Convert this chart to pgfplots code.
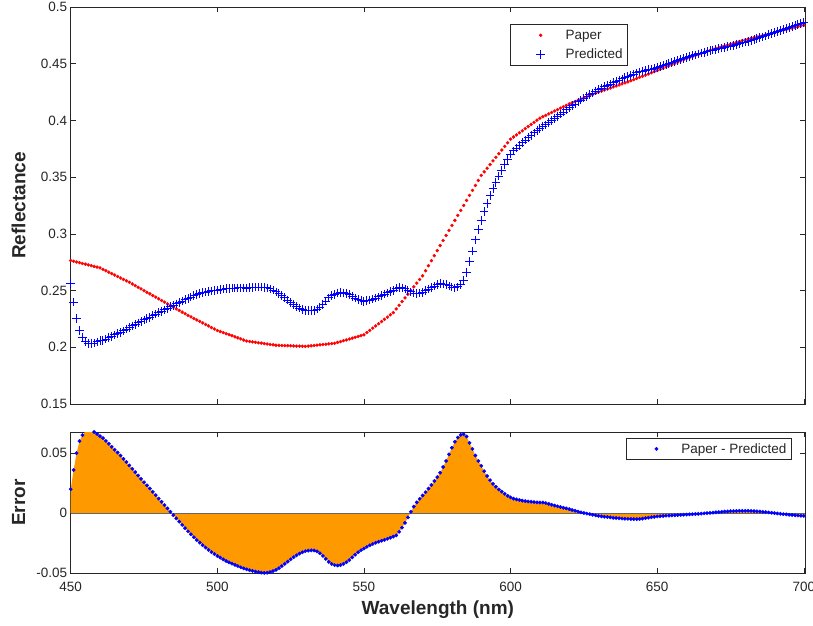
\documentclass[border=0pt]{standalone}
\usepackage{fontspec}
\setmainfont{Liberation Sans}
\usepackage{pgfplots}
\usepackage{pgfplotstable}
\pgfplotsset{compat=1.18}
\definecolor{axgray}{RGB}{38,38,38}
\definecolor{morange}{RGB}{255,153,0}

\pgfplotstableread{
lam paper pred err
450 0.2765 0.2565 0.0200
451 0.2759 0.2399 0.0360
452 0.2752 0.2252 0.0500
453 0.2746 0.2146 0.0600
454 0.2739 0.2089 0.0650
455 0.2733 0.2053 0.0680
456 0.2726 0.2036 0.0690
457 0.2720 0.2032 0.0688
458 0.2713 0.2037 0.0676
459 0.2707 0.2047 0.0660
460 0.2700 0.2058 0.0642
461 0.2687 0.2062 0.0625
462 0.2675 0.2073 0.0602
463 0.2662 0.2084 0.0578
464 0.2649 0.2096 0.0553
465 0.2637 0.2109 0.0528
466 0.2624 0.2119 0.0505
467 0.2611 0.2131 0.0480
468 0.2598 0.2145 0.0453
469 0.2586 0.2160 0.0426
470 0.2573 0.2175 0.0398
471 0.2558 0.2188 0.0370
472 0.2544 0.2202 0.0342
473 0.2529 0.2215 0.0314
474 0.2515 0.2229 0.0286
475 0.2500 0.2242 0.0258
476 0.2485 0.2253 0.0232
477 0.2471 0.2265 0.0206
478 0.2456 0.2278 0.0178
479 0.2442 0.2292 0.0150
480 0.2427 0.2305 0.0122
481 0.2412 0.2317 0.0095
482 0.2398 0.2330 0.0068
483 0.2383 0.2343 0.0040
484 0.2369 0.2357 0.0012
485 0.2354 0.2370 -0.0016
486 0.2339 0.2382 -0.0043
487 0.2325 0.2395 -0.0070
488 0.2310 0.2407 -0.0097
489 0.2296 0.2420 -0.0124
490 0.2281 0.2431 -0.0150
491 0.2268 0.2443 -0.0175
492 0.2254 0.2454 -0.0200
493 0.2241 0.2465 -0.0224
494 0.2228 0.2473 -0.0245
495 0.2215 0.2481 -0.0266
496 0.2201 0.2487 -0.0286
497 0.2188 0.2493 -0.0305
498 0.2174 0.2497 -0.0323
499 0.2161 0.2501 -0.0340
500 0.2148 0.2504 -0.0356
501 0.2139 0.2509 -0.0370
502 0.2129 0.2513 -0.0384
503 0.2120 0.2517 -0.0397
504 0.2111 0.2520 -0.0409
505 0.2102 0.2522 -0.0420
506 0.2092 0.2522 -0.0430
507 0.2083 0.2523 -0.0440
508 0.2074 0.2524 -0.0450
509 0.2064 0.2523 -0.0459
510 0.2055 0.2522 -0.0467
511 0.2051 0.2525 -0.0474
512 0.2048 0.2528 -0.0480
513 0.2044 0.2530 -0.0486
514 0.2040 0.2530 -0.0490
515 0.2037 0.2531 -0.0494
516 0.2033 0.2529 -0.0496
517 0.2029 0.2524 -0.0495
518 0.2025 0.2515 -0.0490
519 0.2022 0.2504 -0.0482
520 0.2018 0.2489 -0.0471
521 0.2017 0.2474 -0.0457
522 0.2016 0.2456 -0.0440
523 0.2015 0.2437 -0.0422
524 0.2014 0.2417 -0.0403
525 0.2013 0.2397 -0.0384
526 0.2012 0.2378 -0.0366
527 0.2011 0.2361 -0.0350
528 0.2010 0.2346 -0.0336
529 0.2009 0.2334 -0.0325
530 0.2008 0.2324 -0.0316
531 0.2011 0.2322 -0.0311
532 0.2013 0.2322 -0.0309
533 0.2016 0.2326 -0.0310
534 0.2019 0.2337 -0.0318
535 0.2022 0.2355 -0.0333
536 0.2024 0.2379 -0.0355
537 0.2027 0.2407 -0.0380
538 0.2030 0.2435 -0.0405
539 0.2032 0.2454 -0.0422
540 0.2035 0.2467 -0.0432
541 0.2043 0.2478 -0.0435
542 0.2050 0.2482 -0.0432
543 0.2058 0.2480 -0.0422
544 0.2065 0.2473 -0.0408
545 0.2073 0.2463 -0.0390
546 0.2080 0.2448 -0.0368
547 0.2088 0.2433 -0.0345
548 0.2095 0.2420 -0.0325
549 0.2103 0.2411 -0.0308
550 0.2110 0.2404 -0.0294
551 0.2130 0.2410 -0.0280
552 0.2149 0.2416 -0.0267
553 0.2169 0.2425 -0.0256
554 0.2188 0.2434 -0.0246
555 0.2208 0.2445 -0.0237
556 0.2227 0.2456 -0.0229
557 0.2247 0.2469 -0.0222
558 0.2266 0.2479 -0.0213
559 0.2286 0.2490 -0.0204
560 0.2305 0.2500 -0.0195
561 0.2338 0.2522 -0.0184
562 0.2370 0.2525 -0.0155
563 0.2403 0.2523 -0.0120
564 0.2435 0.2515 -0.0080
565 0.2468 0.2503 -0.0035
566 0.2500 0.2488 0.0012
567 0.2533 0.2478 0.0055
568 0.2565 0.2475 0.0090
569 0.2598 0.2478 0.0120
570 0.2630 0.2482 0.0148
571 0.2675 0.2500 0.0175
572 0.2719 0.2514 0.0205
573 0.2764 0.2529 0.0235
574 0.2808 0.2540 0.0268
575 0.2853 0.2553 0.0300
576 0.2897 0.2560 0.0337
577 0.2942 0.2557 0.0385
578 0.2986 0.2551 0.0435
579 0.3031 0.2541 0.0490
580 0.3075 0.2530 0.0545
581 0.3119 0.2524 0.0595
582 0.3163 0.2533 0.0630
583 0.3207 0.2555 0.0652
584 0.3251 0.2593 0.0658
585 0.3295 0.2657 0.0638
586 0.3339 0.2754 0.0585
587 0.3383 0.2848 0.0535
588 0.3427 0.2947 0.0480
589 0.3471 0.3036 0.0435
590 0.3515 0.3120 0.0395
591 0.3547 0.3197 0.0350
592 0.3579 0.3269 0.0310
593 0.3611 0.3336 0.0275
594 0.3643 0.3398 0.0245
595 0.3675 0.3455 0.0220
596 0.3707 0.3509 0.0198
597 0.3739 0.3559 0.0180
598 0.3771 0.3609 0.0162
599 0.3803 0.3658 0.0145
600 0.3835 0.3703 0.0132
601 0.3854 0.3732 0.0122
602 0.3872 0.3757 0.0115
603 0.3891 0.3781 0.0110
604 0.3909 0.3804 0.0105
605 0.3928 0.3827 0.0101
606 0.3946 0.3848 0.0098
607 0.3965 0.3869 0.0096
608 0.3983 0.3890 0.0093
609 0.4002 0.3912 0.0090
610 0.4020 0.3931 0.0089
611 0.4033 0.3944 0.0089
612 0.4045 0.3960 0.0085
613 0.4058 0.3980 0.0078
614 0.4070 0.4000 0.0070
615 0.4083 0.4019 0.0064
616 0.4095 0.4037 0.0058
617 0.4108 0.4056 0.0052
618 0.4120 0.4074 0.0046
619 0.4133 0.4093 0.0040
620 0.4145 0.4111 0.0034
621 0.4156 0.4129 0.0027
622 0.4166 0.4145 0.0021
623 0.4177 0.4163 0.0014
624 0.4187 0.4179 0.0008
625 0.4198 0.4196 0.0002
626 0.4208 0.4211 -0.0003
627 0.4219 0.4227 -0.0008
628 0.4229 0.4242 -0.0013
629 0.4240 0.4258 -0.0018
630 0.4250 0.4272 -0.0022
631 0.4259 0.4285 -0.0026
632 0.4268 0.4297 -0.0029
633 0.4277 0.4309 -0.0032
634 0.4286 0.4321 -0.0035
635 0.4295 0.4333 -0.0038
636 0.4304 0.4344 -0.0040
637 0.4313 0.4355 -0.0042
638 0.4322 0.4366 -0.0044
639 0.4331 0.4377 -0.0046
640 0.4340 0.4387 -0.0047
641 0.4350 0.4398 -0.0048
642 0.4360 0.4409 -0.0049
643 0.4370 0.4419 -0.0049
644 0.4380 0.4428 -0.0048
645 0.4390 0.4435 -0.0045
646 0.4400 0.4441 -0.0041
647 0.4410 0.4447 -0.0037
648 0.4420 0.4453 -0.0033
649 0.4430 0.4460 -0.0030
650 0.4440 0.4467 -0.0027
651 0.4451 0.4476 -0.0025
652 0.4461 0.4484 -0.0023
653 0.4472 0.4493 -0.0021
654 0.4482 0.4502 -0.0020
655 0.4493 0.4511 -0.0018
656 0.4503 0.4520 -0.0017
657 0.4514 0.4529 -0.0015
658 0.4524 0.4538 -0.0014
659 0.4535 0.4547 -0.0012
660 0.4545 0.4556 -0.0011
661 0.4554 0.4563 -0.0009
662 0.4563 0.4571 -0.0008
663 0.4572 0.4578 -0.0006
664 0.4581 0.4586 -0.0005
665 0.4590 0.4593 -0.0003
666 0.4599 0.4600 -0.0001
667 0.4608 0.4607 0.0001
668 0.4617 0.4614 0.0003
669 0.4626 0.4621 0.0005
670 0.4635 0.4627 0.0008
671 0.4643 0.4633 0.0010
672 0.4650 0.4638 0.0012
673 0.4658 0.4644 0.0014
674 0.4665 0.4650 0.0015
675 0.4673 0.4656 0.0017
676 0.4680 0.4662 0.0018
677 0.4688 0.4669 0.0019
678 0.4695 0.4675 0.0020
679 0.4703 0.4683 0.0020
680 0.4710 0.4690 0.0020
681 0.4717 0.4697 0.0020
682 0.4723 0.4704 0.0019
683 0.4730 0.4712 0.0018
684 0.4736 0.4720 0.0016
685 0.4743 0.4729 0.0014
686 0.4749 0.4737 0.0012
687 0.4756 0.4746 0.0010
688 0.4762 0.4755 0.0007
689 0.4769 0.4765 0.0004
690 0.4775 0.4774 0.0001
691 0.4782 0.4784 -0.0002
692 0.4788 0.4793 -0.0005
693 0.4795 0.4803 -0.0008
694 0.4801 0.4811 -0.0010
695 0.4808 0.4821 -0.0013
696 0.4814 0.4829 -0.0015
697 0.4821 0.4838 -0.0017
698 0.4827 0.4846 -0.0019
699 0.4834 0.4855 -0.0021
700 0.4840 0.4862 -0.0022
}\data

\pgfplotsset{
  mylegimg/.style={legend image code/.code={%
    \path[draw=none,fill=none] (0pt,-4pt) rectangle (50pt,4pt);
    \draw[mark repeat=2,mark phase=2,##1] plot coordinates {(0pt,0pt) (27pt,0pt) (50pt,0pt)};}},
  myax/.style={
    scale only axis, width=734.3pt, xmin=450, xmax=700.4,
    axis line style={axgray, line width=0.6pt},
    tick style={axgray, line width=0.6pt},
    tick align=inside, major tick length=5pt,
    ticklabel style={font=\fontsize{13.5}{15}\selectfont, text=axgray},
    /pgf/number format/assume math mode=true,
    scaled ticks=false,
    xtick={450,500,550,600,650,700},
    xticklabel style={yshift=-5pt},
    label style={font=\bfseries\fontsize{19}{22}\selectfont, text=axgray},
    legend cell align=left,
    legend style={draw=axgray, line width=0.6pt, font=\fontsize{13.5}{15}\selectfont, inner xsep=3pt, inner ysep=3.5pt, row sep=4pt},
  }
}

\begin{document}
\begin{tikzpicture}
\path[use as bounding box] (0,0) rectangle (813pt,625pt);
\begin{axis}[myax,
  at={(70.7pt,221pt)}, anchor=south west, height=397pt,
  ymin=0.15, ymax=0.5,
  ytick={0.15,0.2,0.25,0.3,0.35,0.4,0.45,0.5},
  yticklabels={0.15,0.2,0.25,0.3,0.35,0.4,0.45,0.5},
  xticklabels={},
  ylabel={Reflectance},
  ylabel style={at={(axis description cs:-0.071,0.5)}, anchor=center},
  legend style={at={(axis description cs:0.759,0.957)}, anchor=north east},
]
\addplot[only marks, mark=*, mark size=1.5pt, color=red, draw=red, fill=red, line width=0.4pt, mylegimg]
  table[x=lam, y=paper] {\data};
\addlegendentry{\textcolor{axgray}{Paper}}
\addplot[only marks, mark=+, mark size=4.3pt, color=blue, draw=blue, line width=0.95pt, mylegimg]
  table[x=lam, y=pred] {\data};
\addlegendentry{\textcolor{axgray}{Predicted}}
\end{axis}

\begin{axis}[myax,
  at={(70.7pt,51.7pt)}, anchor=south west, height=141.3pt,
  ymin=-0.05, ymax=0.0676,
  ytick={-0.05,0,0.05},
  yticklabels={-0.05,0,0.05},
  xticklabels={450,500,550,600,650,700},
  xlabel={Wavelength (nm)},
  xlabel style={at={(axis description cs:0.5,-0.255)}, anchor=center},
  ylabel={Error},
  ylabel style={at={(axis description cs:-0.071,0.5)}, anchor=center},
  legend style={at={(axis description cs:0.982,0.958)}, anchor=north east, inner ysep=3pt},
]
\addplot[fill=morange, draw=none, forget plot] table[x=lam, y=err] {\data} \closedcycle;
\addplot[color=gray!80!black, line width=0.6pt, forget plot] coordinates {(450,0) (700.4,0)};
\addplot[only marks, mark=*, mark size=1.7pt, color=blue, draw=blue, fill=blue, line width=0.4pt, mylegimg]
  table[x=lam, y=err] {\data};
\addlegendentry{\textcolor{axgray}{Paper - Predicted}}
\end{axis}
\end{tikzpicture}
\end{document}
